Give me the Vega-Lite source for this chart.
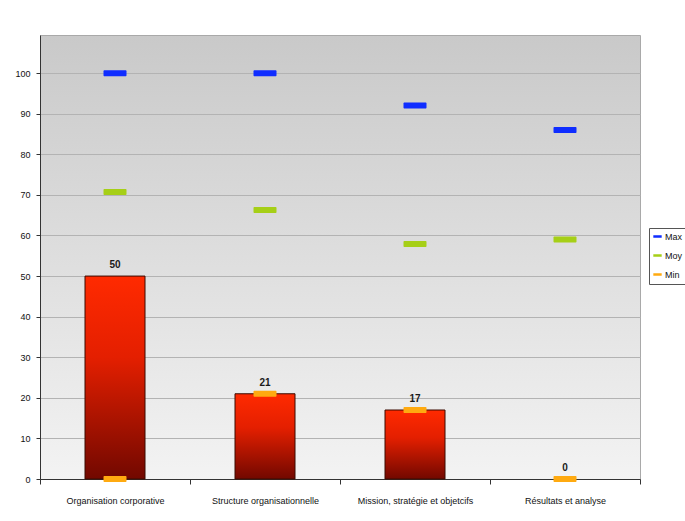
{
  "$schema": "https://vega.github.io/schema/vega-lite/v6.json",
  "autosize": "none",
  "width": 600,
  "height": 444,
  "padding": {"left": 40, "top": 35, "right": 45, "bottom": 42},
  "background": "white",
  "config": {
    "view": {
      "stroke": "#a9a9a9",
      "strokeWidth": 1,
      "fill": {
        "gradient": "linear",
        "x1": 0, "y1": 0, "x2": 0, "y2": 1,
        "stops": [
          {"offset": 0, "color": "#c9c9c9"},
          {"offset": 1, "color": "#f3f3f3"}
        ]
      }
    },
    "font": "Liberation Sans"
  },
  "datasets": {
    "bars": [
      {"categorie": "Organisation corporative", "valeur": 50},
      {"categorie": "Structure organisationnelle", "valeur": 21},
      {"categorie": "Mission, stratégie et objetcifs", "valeur": 17},
      {"categorie": "Résultats et analyse", "valeur": 0}
    ],
    "marqueurs": [
      {"categorie": "Organisation corporative", "serie": "Max", "valeur": 100},
      {"categorie": "Structure organisationnelle", "serie": "Max", "valeur": 100},
      {"categorie": "Mission, stratégie et objetcifs", "serie": "Max", "valeur": 92},
      {"categorie": "Résultats et analyse", "serie": "Max", "valeur": 86},
      {"categorie": "Organisation corporative", "serie": "Moy", "valeur": 70.7},
      {"categorie": "Structure organisationnelle", "serie": "Moy", "valeur": 66.3},
      {"categorie": "Mission, stratégie et objetcifs", "serie": "Moy", "valeur": 57.9},
      {"categorie": "Résultats et analyse", "serie": "Moy", "valeur": 59},
      {"categorie": "Organisation corporative", "serie": "Min", "valeur": 0},
      {"categorie": "Structure organisationnelle", "serie": "Min", "valeur": 21},
      {"categorie": "Mission, stratégie et objetcifs", "serie": "Min", "valeur": 17},
      {"categorie": "Résultats et analyse", "serie": "Min", "valeur": 0}
    ]
  },
  "encoding": {
    "x": {
      "field": "categorie",
      "type": "nominal",
      "sort": null,
      "scale": {"paddingInner": 0, "paddingOuter": 0},
      "axis": {
        "title": null,
        "labelAngle": 0,
        "labelFontSize": 9,
        "labelColor": "#111111",
        "labelPadding": 12,
        "tickBand": "extent",
        "tickSize": 5,
        "tickColor": "#333333",
        "domainColor": "#333333",
        "grid": false
      }
    },
    "y": {
      "field": "valeur",
      "type": "quantitative",
      "scale": {"domain": [0, 109.4], "nice": false},
      "axis": {
        "title": null,
        "values": [0, 10, 20, 30, 40, 50, 60, 70, 80, 90, 100],
        "labelFontSize": 9,
        "labelColor": "#111111",
        "labelPadding": 6,
        "tickSize": 4,
        "tickColor": "#333333",
        "domainColor": "#333333",
        "gridColor": "#b3b3b3",
        "gridWidth": 1
      }
    }
  },
  "layer": [
    {
      "data": {"name": "bars"},
      "transform": [{"filter": "datum.valeur > 0"}],
      "mark": {
        "type": "bar",
        "width": {"band": 0.4},
        "stroke": "#3a0a00",
        "strokeWidth": 1,
        "fill": {
          "gradient": "linear",
          "x1": 0, "y1": 0, "x2": 0, "y2": 1,
          "stops": [
            {"offset": 0, "color": "#ff2a00"},
            {"offset": 0.4, "color": "#e41f00"},
            {"offset": 1, "color": "#720800"}
          ]
        }
      }
    },
    {
      "data": {"name": "bars"},
      "mark": {"type": "text", "dy": -11, "fontSize": 10, "fontWeight": "bold", "color": "#1a1a1a"},
      "encoding": {"text": {"field": "valeur", "type": "quantitative"}}
    },
    {
      "data": {"name": "marqueurs"},
      "mark": {"type": "tick", "size": 23, "thickness": 6, "cornerRadius": 1, "opacity": 1},
      "encoding": {
        "color": {
          "field": "serie",
          "type": "nominal",
          "scale": {"domain": ["Max", "Moy", "Min"], "range": ["#0f2dff", "#a6cf17", "#ffaa10"]},
          "legend": {
            "title": null,
            "orient": "none",
            "legendX": 609,
            "legendY": 193,
            "direction": "vertical",
            "strokeColor": "#555555",
            "padding": 4,
            "fillColor": "white",
            "rowPadding": 9,
            "symbolType": "M-1,-0.3H1V0.3H-1Z",
            "symbolSize": 70,
            "symbolStrokeWidth": 0,
            "symbolOpacity": 1,
            "labelFontSize": 9,
            "labelColor": "#111111",
            "labelOffset": 3
          }
        }
      }
    }
  ]
}
